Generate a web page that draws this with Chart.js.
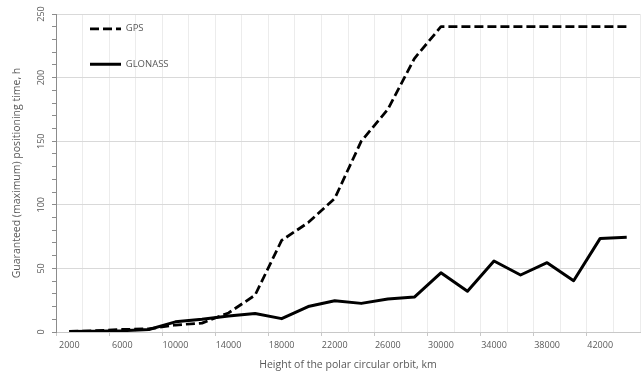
<!DOCTYPE html>
<html lang="en">
<head>
  <meta charset="UTF-8" />
  <title>Guaranteed positioning time</title>
  <script src="https://cdn.jsdelivr.net/npm/chart.js"></script>
  <style>
    html, body { margin: 0; padding: 0; background: #fff; }
    canvas { display: block; }
  </style>
</head>
<body>
  <canvas id="chart" width="643" height="374"></canvas>

  <script>
    // orbit heights, km (one category every 2000 km)
    const heights = [2000, 4000, 6000, 8000, 10000, 12000, 14000, 16000, 18000, 20000, 22000,
                     24000, 26000, 28000, 30000, 32000, 34000, 36000, 38000, 40000, 42000, 44000];

    // guaranteed (maximum) positioning time, h
    const gps = [0.5, 1, 2, 2.5, 5.5, 7, 15, 29, 72, 86, 105,
                 150, 175, 215, 240, 240, 240, 240, 240, 240, 240, 240];
    const glonass = [0.3, 0.6, 1, 2, 8, 10, 12.5, 14.5, 10.5, 20, 24.6,
                     22.5, 26, 27.5, 46.5, 32, 55.8, 44.8, 54.5, 40.3, 73.6, 74.4];

    // y axis: labelled every 50 h, minor tick marks every 10 h
    const yMax = 250;
    const yMinorStep = 10;
    const yMajorStep = 50;

    const textColor = '#595959';
    const tickFont = { family: 'Open Sans', size: 9 };
    const titleFont = { family: 'Open Sans', size: 10.5 };
    const legendFont = { family: 'Open Sans', size: 9.5 };

    // puts the legend inside the plot, top left
    const legendInside = {
      id: 'legendInside',
      afterLayout(chart) {
        const area = chart.chartArea;
        chart.legend.left = area.left + 8;
        chart.legend.top = area.top - 16;
      }
    };

    new Chart(document.getElementById('chart'), {
      type: 'line',
      data: {
        labels: heights.map(String),
        datasets: [
          {
            label: 'GPS',
            data: gps,
            borderColor: '#000',
            backgroundColor: '#000',
            borderWidth: 2.75,
            borderDash: [9, 4],
            borderJoinStyle: 'round',
            pointRadius: 0,
            tension: 0
          },
          {
            label: 'GLONASS',
            data: glonass,
            borderColor: '#000',
            backgroundColor: '#000',
            borderWidth: 3,
            borderJoinStyle: 'round',
            pointRadius: 0,
            tension: 0
          }
        ]
      },
      options: {
        responsive: false,
        animation: false,
        devicePixelRatio: 1,
        layout: { padding: { top: 14, right: 3, left: 0, bottom: 0 } },
        plugins: {
          tooltip: { enabled: false },
          legend: {
            position: 'chartArea',
            align: 'start',
            labels: {
              usePointStyle: true,
              pointStyle: 'line',
              pointStyleWidth: 31,
              padding: 26,
              color: textColor,
              font: legendFont,
              generateLabels: chart =>
                Chart.defaults.plugins.legend.labels.generateLabels(chart).map(item => {
                  const ds = chart.data.datasets[item.datasetIndex];
                  return { ...item, lineDash: ds.borderDash || [], lineWidth: ds.borderWidth, strokeStyle: ds.borderColor };
                })
            }
          }
        },
        scales: {
          x: {
            offset: true,
            grid: {
              offset: true,
              color: '#ececec',
              tickLength: 4,
              tickColor: ctx => ctx.index % 2 === 0 ? '#c8c8c8' : 'rgba(0,0,0,0)'
            },
            border: { color: '#c8c8c8' },
            ticks: {
              autoSkip: false,
              maxRotation: 0,
              padding: 4,
              color: textColor,
              font: tickFont,
              callback: (v, i) => i % 2 === 0 ? heights[i] : ''
            },
            title: {
              display: true,
              text: 'Height of the polar circular orbit, km',
              color: textColor,
              font: titleFont,
              padding: { top: 0, bottom: 3 }
            },
            afterFit: s => { s.height = 42; }
          },
          y: {
            min: 0,
            max: yMax,
            grid: {
              color: ctx => ctx.tick.value % yMajorStep === 0 ? '#d9d9d9' : 'rgba(0,0,0,0)',
              tickLength: 4,
              tickColor: '#8c8c8c'
            },
            border: { color: '#8c8c8c' },
            ticks: {
              stepSize: yMinorStep,
              autoSkip: false,
              minRotation: 90,
              maxRotation: 90,
              crossAlign: 'center',
              padding: 3,
              color: textColor,
              font: tickFont,
              callback: v => v % yMajorStep === 0 ? v : ''
            },
            title: {
              display: true,
              text: 'Guaranteed (maximum) positioning time, h',
              color: textColor,
              font: titleFont,
              padding: { top: 11, bottom: 0 }
            },
            afterFit: s => { s.width = 56; }
          }
        }
      },
      plugins: [legendInside]
    });
  </script>
</body>
</html>
